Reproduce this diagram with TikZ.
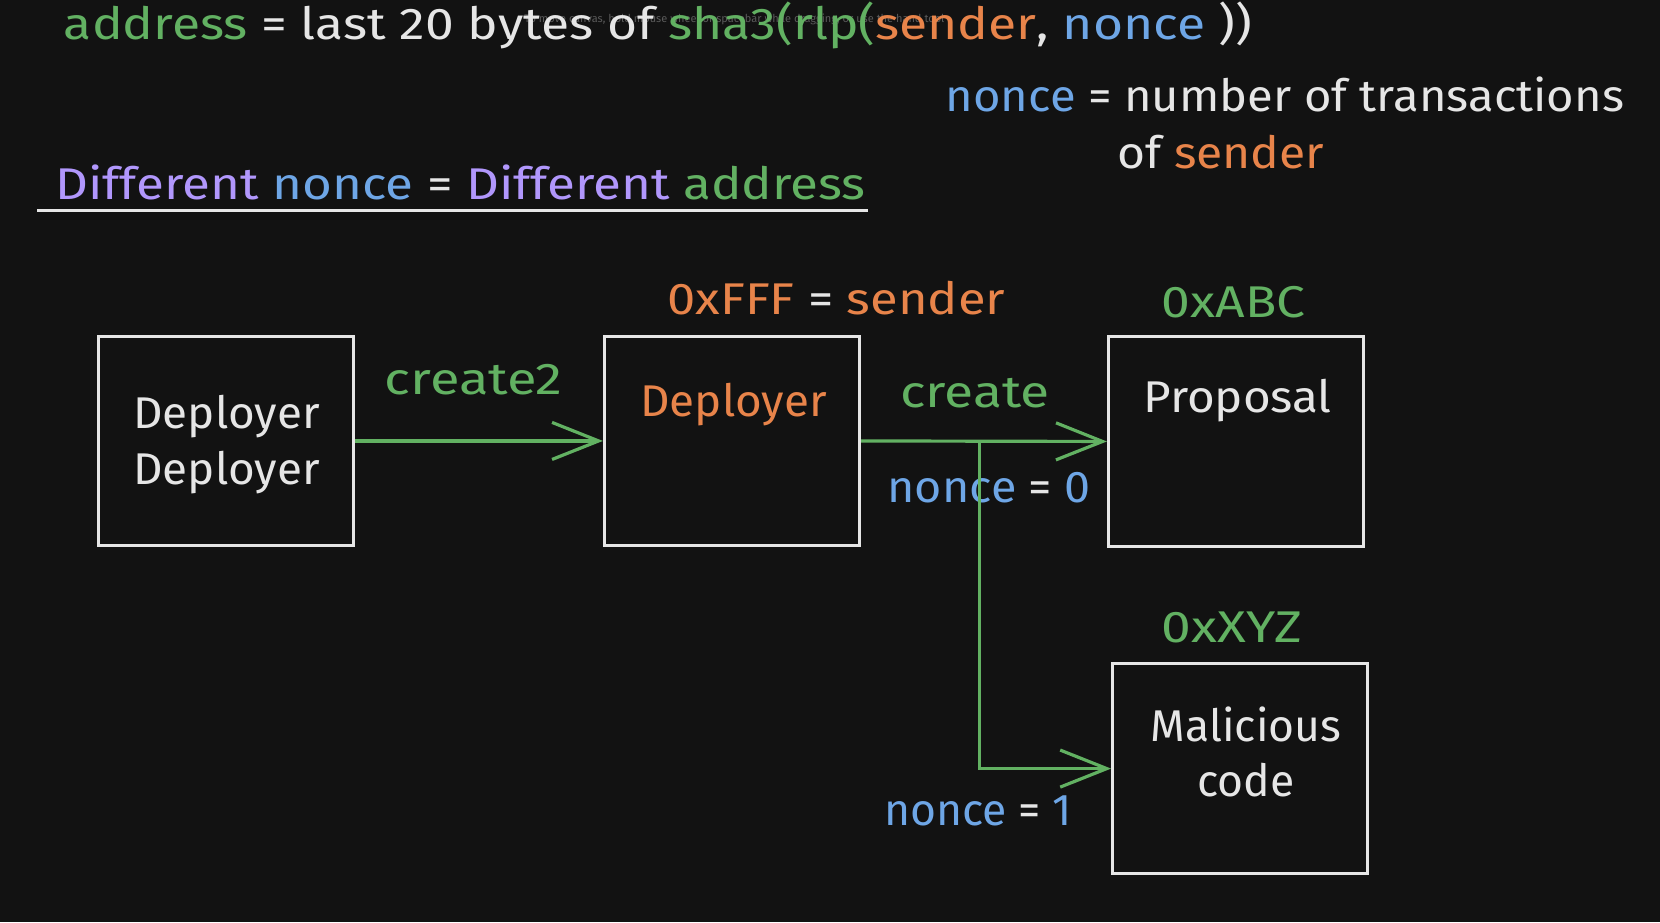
\documentclass[tikz,border=0pt]{standalone}
\usepackage{graphicx}
\usepackage{fontspec}
\setmainfont{Fira Sans}
\usetikzlibrary{arrows.meta}
\definecolor{bg}{HTML}{121212}
\definecolor{cgreen}{HTML}{62B162}
\definecolor{corange}{HTML}{E8844A}
\definecolor{cblue}{HTML}{6EA6E6}
\definecolor{cpurple}{HTML}{B197FC}
\definecolor{cwhite}{HTML}{E6E6E6}
\definecolor{chint}{HTML}{5A5A5A}
\newcommand{\wide}[2]{\scalebox{#1}[1]{#2}}
\tikzset{
  txt/.style={inner sep=0pt, anchor=base west, text=cwhite, font=\fontsize{21}{25}\selectfont},
  ctxt/.style={inner sep=0pt, anchor=base, text=cwhite, font=\fontsize{21}{25}\selectfont, align=center},
  box/.style={draw=cwhite, line width=1.5pt, rectangle, inner sep=0pt},
  arr/.style={draw=cgreen, line width=1.5pt, -{Straight Barb[length=22pt,width=17.5pt,line width=1.5pt]}},
}
\begin{document}
\begin{tikzpicture}[x=0.5pt,y=-0.5pt]
\fill[bg] (0,0) rectangle (1568,871);
\useasboundingbox (0,0) rectangle (1568,871);
% faint UI hint
\node[inner sep=0pt, anchor=base west, text=chint, font=\fontsize{5.2}{6}\selectfont] (hint) at (495,21) {To move canvas, hold mouse wheel or spacebar while dragging, or use the hand tool};
% title
\node[txt] (title) at (60,37) {\wide{1.16}{\textcolor{cgreen}{address} = last 20 bytes of \textcolor{cgreen}{sha3(rlp(}\textcolor{corange}{sender}, \textcolor{cblue}{nonce} ))}};
\node[txt] (def1) at (893,105) {\wide{1.06}{\textcolor{cblue}{nonce} = number of transactions}};
\node[txt] (def2) at (1055,159) {\wide{1.08}{of \textcolor{corange}{sender}}};
\node[txt] (diff) at (52,188) {\wide{1.15}{\textcolor{cpurple}{Different} \textcolor{cblue}{nonce} = \textcolor{cpurple}{Different} \textcolor{cgreen}{address}}};
\coordinate (ul1) at (35,199);
\coordinate (ul2) at (820,199);
\draw[cwhite, line width=1.6pt] (ul1) -- (ul2);
% boxes
\node[box, minimum width=120.5pt, minimum height=98.5pt] (b1) at (213.5,416.5) {};
\node[box, minimum width=120.5pt, minimum height=98.5pt] (b2) at (691.5,416.5) {};
\node[box, minimum width=120.5pt, minimum height=99pt] (b3) at (1167.5,417) {};
\node[box, minimum width=120.5pt, minimum height=99pt] (b4) at (1171.5,726) {};
% box texts
\node[ctxt] (t1) at (214,405) {\wide{1.03}{Deployer}};
\node[ctxt] (t1b) at (214,458) {\wide{1.03}{Deployer}};
\node[ctxt, text=corange] (t2) at (693,393) {\wide{1.03}{Deployer}};
\node[ctxt] (t3) at (1169,390) {\wide{1.07}{Proposal}};
\node[ctxt] (t4) at (1177,700) {Malicious};
\node[ctxt] (t4b) at (1177,752) {code};
% labels
\node[txt] (sender) at (630,297) {\wide{1.14}{\textcolor{corange}{0xFFF} = \textcolor{corange}{sender}}};
\node[txt, text=cgreen] (abc) at (1097,300) {\wide{1.16}{0xABC}};
\node[txt, text=cgreen] (xyz) at (1097,607) {\wide{1.2}{0xXYZ}};
\node[txt, text=cgreen] (c2) at (363,373) {\wide{1.22}{create2}};
\node[txt, text=cgreen] (c1) at (850,385) {\wide{1.2}{create}};
\node[txt] (n0) at (838,475) {\wide{1.05}{\textcolor{cblue}{nonce} = \textcolor{cblue}{0}}};
\node[txt] (n1) at (835,780) {\textcolor{cblue}{nonce} = \textcolor{cblue}{1}};
% connectors
\draw[arr] (b1.east) -- (b2.west);
\draw[arr] (b2.east) -- (b3.west);
\coordinate (j) at (925,416.5);
\draw[arr] (j) |- (b4.west);
\end{tikzpicture}
\end{document}
